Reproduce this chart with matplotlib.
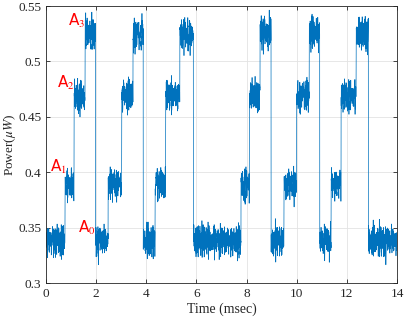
import numpy as np
import matplotlib
matplotlib.use('Agg')
import matplotlib.pyplot as plt

# symbol boundaries (msec) and the level index of each symbol
EDGES = [0, 0.76, 1.12, 1.56, 1.98, 2.48, 3.02, 3.47, 3.88, 4.35, 4.77, 5.34,
         5.88, 7.78, 8.11, 8.54, 8.98, 9.49, 10.0, 10.5, 10.92, 11.37, 11.77,
         12.37, 12.86, 14.0]
SYMBOLS = [0, 1, 2, 3, 0, 1, 2, 3, 0, 1, 2, 3, 0, 1, 2, 3, 0, 1, 2, 3, 0, 1,
           2, 3, 0]
LEVELS = [0.338, 0.389, 0.469, 0.525]  # A0..A3 in uW
LABELS = ['A$_0$', 'A$_1$', 'A$_2$', 'A$_3$']
LABEL_POS = [(1.28, 0.350), (0.16, 0.405), (0.44, 0.481), (0.88, 0.537)]

# noise excursions around each level (uW), two hand-read patterns
JITTER_A = [0.004, -0.007, 0.002, 0.011, -0.003, -0.012, 0.006, 0.001, -0.005,
            0.009, -0.001, -0.016, 0.003, 0.008, -0.006, 0.000, 0.013, -0.009,
            0.005, -0.002, -0.008, 0.007, 0.002, -0.011, 0.010, -0.004, 0.001,
            0.018, -0.006, 0.003, -0.013, 0.005, -0.001, 0.008, -0.007, 0.002,
            0.012, -0.003, -0.009, 0.004, 0.000, -0.015, 0.007, 0.003, -0.005,
            0.010, -0.002, 0.006, -0.010, 0.001, 0.014, -0.004, -0.008, 0.005,
            0.002, -0.019, 0.009, -0.003, 0.004, -0.006, 0.011]
JITTER_B = [-0.003, 0.006, 0.001, -0.008, 0.004, -0.001, 0.009, -0.005, 0.002,
            -0.010, 0.003, 0.007, -0.002, -0.006, 0.011, 0.000, -0.004, 0.005,
            -0.009, 0.002, 0.008, -0.003, -0.007, 0.004, 0.001, -0.012, 0.006,
            -0.001, 0.003, 0.010, -0.006, 0.002, -0.004, 0.007, -0.008, 0.000,
            0.005, -0.002, 0.013, -0.005, 0.001, -0.009, 0.004, 0.006, -0.003,
            -0.001, 0.008]

plt.rcParams['mathtext.fontset'] = 'stix'
serif = 'Liberation Serif'

dt = 0.004
t = np.arange(0, 14 + dt / 2, dt)
seg = np.clip(np.searchsorted(EDGES, t, side='right') - 1, 0, len(SYMBOLS) - 1)
base = np.array(LEVELS)[np.array(SYMBOLS)[seg]]
k = np.arange(len(t))
ja, jb = np.array(JITTER_A), np.array(JITTER_B)
power = base + 0.75 * ja[(k * 7) % len(ja)] + 0.6 * jb[(k * 5) % len(jb)]

fig = plt.figure(figsize=(4.07, 3.25), dpi=100)
ax = fig.add_axes([0.113, 0.129, 0.8624, 0.8523])
ax.plot(t, power, color='#0072BD', lw=0.5)

ax.set_xlim(0, 14)
ax.set_ylim(0.3, 0.55)
ax.set_xticks(range(0, 15, 2))
ax.set_yticks([0.3, 0.35, 0.4, 0.45, 0.5, 0.55])
ax.set_yticklabels(['0.3', '0.35', '0.4', '0.45', '0.5', '0.55'])
ax.grid(True, color='#e3e3e3', lw=0.6)
ax.set_axisbelow(True)
ax.tick_params(direction='in', top=True, right=True, length=3, width=0.6,
               colors='#262626', labelsize=9.5)
for lab in ax.get_xticklabels() + ax.get_yticklabels():
    lab.set_fontfamily(serif)
for s in ax.spines.values():
    s.set_color('#262626')
    s.set_linewidth(0.6)

ax.set_xlabel('Time (msec)', fontfamily=serif, fontsize=10, color='#262626',
              labelpad=2)
ax.set_ylabel('Power($\\mu W$)', fontfamily=serif, fontsize=9.5,
              color='#262626')
ax.yaxis.set_label_coords(-0.08, 0.5)

for (x, y), lab in zip(LABEL_POS, LABELS):
    ax.text(x, y, lab, color='red', fontsize=11, fontfamily='DejaVu Sans',
            va='center', ha='left')

fig.savefig('out.png', dpi=100)
